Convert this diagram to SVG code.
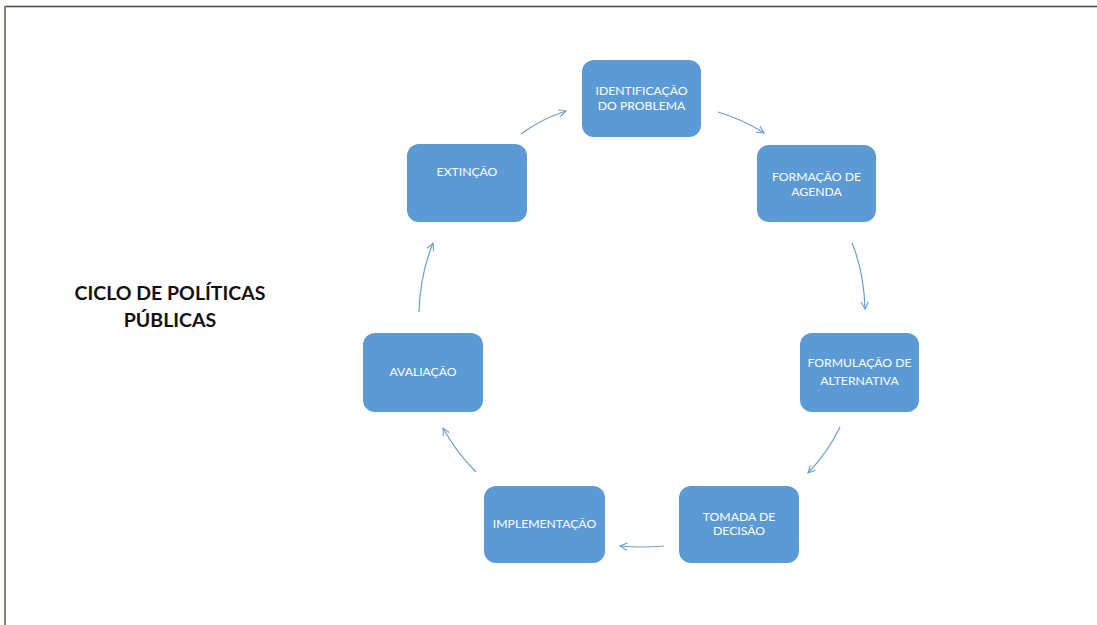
<svg xmlns="http://www.w3.org/2000/svg" width="1097" height="625" viewBox="0 0 1097 625">
<style>
.box{fill:#5B9AD5;}
.lbl{font-family:Lato,"Open Sans","Liberation Sans",sans-serif;font-size:12.2px;fill:#FFFFFF;text-anchor:middle;}
.title{font-family:Lato,"Open Sans","Liberation Sans",sans-serif;font-size:19.5px;font-weight:bold;fill:#111111;text-anchor:middle;}
.arr{fill:none;stroke:#6A9FCF;stroke-width:1.2;marker-end:url(#ah);}
</style>
<defs>
<marker id="ah" viewBox="0 0 10 10" refX="9" refY="5" markerWidth="9" markerHeight="9" markerUnits="userSpaceOnUse" orient="auto">
<path d="M1,1 L9,5 L1,9" fill="none" stroke="#6A9FCF" stroke-width="1.2"/>
</marker>
</defs>
<rect x="0" y="0" width="1097" height="625" fill="#FFFFFF"/>
<g id="frame">
<line x1="4" y1="6.5" x2="1097" y2="6.5" stroke="#3F4A3C" stroke-width="1.5"/>
<line x1="5" y1="6" x2="5" y2="625" stroke="#7C8577" stroke-width="2"/>
</g>
<g id="title">
<text class="title" x="170" y="300">CICLO DE POLÍTICAS</text>
<text class="title" x="170" y="327">PÚBLICAS</text>
</g>
<g id="n-identificacao">
<rect class="box" x="582" y="60" width="119" height="77" rx="12"/>
<text class="lbl" x="641.5" y="95">IDENTIFICAÇÃO</text>
<text class="lbl" x="641.5" y="110">DO PROBLEMA</text>
</g>
<g id="n-formacao">
<rect class="box" x="757" y="145" width="119" height="77" rx="12"/>
<text class="lbl" x="816.5" y="181">FORMAÇÃO DE</text>
<text class="lbl" x="816.5" y="196">AGENDA</text>
</g>
<g id="n-formulacao">
<rect class="box" x="800" y="333" width="119" height="79" rx="12"/>
<text class="lbl" x="859.5" y="367">FORMULAÇÃO DE</text>
<text class="lbl" x="859.5" y="385">ALTERNATIVA</text>
</g>
<g id="n-tomada">
<rect class="box" x="679" y="486" width="120" height="77" rx="12"/>
<text class="lbl" x="739" y="521">TOMADA DE</text>
<text class="lbl" x="739" y="535">DECISÃO</text>
</g>
<g id="n-implementacao">
<rect class="box" x="484" y="486" width="121" height="77" rx="12"/>
<text class="lbl" x="544.5" y="528">IMPLEMENTAÇÃO</text>
</g>
<g id="n-avaliacao">
<rect class="box" x="363" y="333" width="120" height="79" rx="12"/>
<text class="lbl" x="423" y="376">AVALIAÇÃO</text>
</g>
<g id="n-extincao">
<rect class="box" x="407" y="144" width="120" height="78" rx="12"/>
<text class="lbl" x="467" y="176">EXTINÇÃO</text>
</g>
<g id="connectors">
<path class="arr" d="M718,112 Q742,119 764,133"/>
<path class="arr" d="M852,243 Q864,272 865,309"/>
<path class="arr" d="M840,427 Q828,452 808,473"/>
<path class="arr" d="M664,546 Q642,548 620,546"/>
<path class="arr" d="M476,472 Q456,452 443,428"/>
<path class="arr" d="M419,312 Q420,275 433,243"/>
<path class="arr" d="M521,134 Q541,119 566,111"/>
</g>
</svg>
